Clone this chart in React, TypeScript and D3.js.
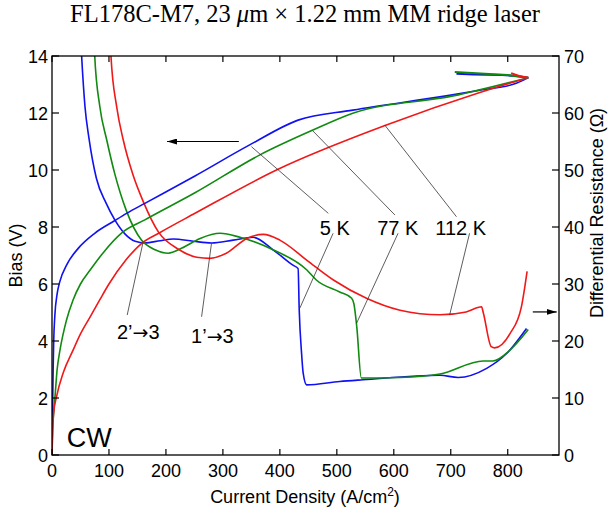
import * as d3 from "d3";

// axis ticks
const xTicks = [0, 100, 200, 300, 400, 500, 600, 700, 800];
const vTicks = [0, 2, 4, 6, 8, 10, 12, 14];
const rTicks = [0, 10, 20, 30, 40, 50, 60, 70];

type Pt = [number, number];

// bias (V) vs current density (A/cm2), forward sweep then the short return
const ivBlue: Pt[] = [[0, 0], [1, 1.5], [2, 3], [3, 4], [5, 4.9], [9, 5.65], [14, 6.1], [26, 6.68], [46, 7.25], [75, 7.78], [109, 8.21], [131, 8.48], [163, 8.83], [251, 9.79], [347, 10.88], [432, 11.75], [528, 12.1], [692, 12.6], [751, 12.8], [815, 13.04], [836, 13.24]];
const ivBlueBack: Pt[] = [[836, 13.24], [815, 13.3], [790, 13.33], [740, 13.35], [710, 13.38]];
const ivGreen: Pt[] = [[0, 0], [1, 0.8], [3, 1.5], [5.3, 2.05], [9, 3.0], [14, 3.68], [25, 4.7], [37, 5.44], [50, 6.0], [67, 6.49], [90, 7.1], [123, 7.8], [163, 8.25], [251, 9.2], [365, 10.53], [458, 11.4], [528, 11.99], [704, 12.6], [836, 13.24]];
const ivGreenBack: Pt[] = [[836, 13.24], [800, 13.33], [760, 13.38], [707, 13.44]];
const ivRed: Pt[] = [[0, 0], [1, 0.88], [3, 1.5], [8, 2.05], [20, 2.9], [37, 3.68], [50, 4.25], [67, 4.85], [84, 5.45], [100, 6.0], [130, 6.85], [157, 7.42], [189, 7.8], [251, 8.48], [394, 10.0], [587, 11.58], [751, 12.72], [836, 13.24]];
const ivRedBack: Pt[] = [[836, 13.24], [820, 13.3], [806, 13.4]];

// differential resistance (ohm) vs current density
const drBlue: Pt[] = [[48, 78], [52, 70], [58, 61], [65, 55.5], [78, 48.5], [95, 44.2], [110, 41.3], [128, 38.8], [146, 37.5], [163, 37.2], [190, 37.6], [213, 37.9], [248, 37.5], [280, 37.2], [318, 37.7], [353, 38.2], [388, 36.0], [423, 33.3], [432, 32.7], [434, 25.4], [438, 18], [441, 14.3], [447, 12.3], [505, 12.9], [546, 13.2], [681, 14.0], [713, 13.6], [763, 15.2], [798, 17.8], [833, 22.2]];
const drGreen: Pt[] = [[72, 78], [75, 70], [84, 61.1], [96, 55.3], [110, 49.4], [130, 43], [157, 37.7], [181, 36.0], [204, 35.4], [228, 36.3], [260, 38.0], [295, 38.9], [330, 38.2], [388, 36.0], [447, 32.5], [464, 30.7], [505, 28.6], [526, 27.5], [530, 26.5], [535, 22.5], [543, 13.5], [611, 13.6], [681, 14.2], [757, 16.5], [774, 16.5], [804, 18.4], [836, 22.0]];
const drRed: Pt[] = [[100, 78], [103.5, 70], [113.5, 61.1], [125, 55.3], [142, 49.2], [160, 44.5], [187, 39.1], [222, 36.1], [254, 34.7], [277, 34.5], [306, 35.4], [342, 38.0], [371, 38.7], [400, 37.7], [447, 34.2], [494, 30.7], [552, 27.5], [611, 25.4], [681, 24.6], [727, 25.1], [754, 26.0], [757, 25], [771, 19.0], [777, 18.8], [804, 21.3], [824, 26.0], [830, 29.5], [834, 32.2]];

const colors = ["#1010f0", "#108a10", "#f01818"];

// annotation leaders in data units (J, V)
const leaders: [Pt, Pt][] = [
  [[350, 10.82], [485, 8.48]],
  [[493.5, 7.78], [435, 5.15]],
  [[458, 11.37], [602, 8.42]],
  [[607.5, 7.78], [534.6, 4.62]],
  [[584, 11.58], [710, 8.36]],
  [[733, 7.78], [698, 4.91]],
  [[132, 4.91], [160, 7.48]],
  [[262.6, 4.85], [280, 7.43]],
];
const tempLabels: { t: string; at: Pt }[] = [
  { t: "5 K", at: [496.5, 7.72] },
  { t: "77 K", at: [607, 7.72] },
  { t: "112 K", at: [717.5, 7.72] },
];
const transLabels: { from: string; to: string; at: Pt }[] = [
  { from: "2’", to: "3", at: [151.4, 4.06] },
  { from: "1’", to: "3", at: [281.6, 3.94] },
];

const W = 610, H = 511;
const m = { left: 52, right: 559, top: 56, bottom: 455 };
const sans = "'Liberation Sans', Arial, 'DejaVu Sans', sans-serif";

export default function App() {
  const x = d3.scaleLinear().domain([0, 890]).range([m.left, m.right]);
  const yV = d3.scaleLinear().domain([0, 14]).range([m.bottom, m.top]);
  const yR = d3.scaleLinear().domain([0, 70]).range([m.bottom, m.top]);

  const lineV = d3.line<Pt>().x(d => x(d[0])).y(d => yV(d[1])).curve(d3.curveMonotoneX);
  const backV = d3.line<Pt>().x(d => x(d[0])).y(d => yV(d[1]));
  const lineR = d3.line<Pt>().x(d => x(d[0])).y(d => yR(d[1])).curve(d3.curveMonotoneX);

  const iv = [ivBlue, ivGreen, ivRed];
  const ivBack = [ivBlueBack, ivGreenBack, ivRedBack];
  const dr = [drBlue, drGreen, drRed];

  return (
    <svg width={W} height={H} style={{ position: "absolute", left: 0, top: 0, background: "#fff" }}>
      <defs>
        <clipPath id="plot">
          <rect x={m.left} y={m.top} width={m.right - m.left} height={m.bottom - m.top} />
        </clipPath>
        <marker id="head" viewBox="0 0 10 6" refX="10" refY="3" markerWidth="10" markerHeight="6" markerUnits="userSpaceOnUse" orient="auto">
          <path d="M0,0 L10,3 L0,6 Z" fill="#000" />
        </marker>
      </defs>

      <text x={305} y={22} textAnchor="middle" fontFamily="'Liberation Serif', 'Times New Roman', serif" fontSize={24.5}>
        FL178C-M7, 23 <tspan fontStyle="italic">μ</tspan>m × 1.22 mm MM ridge laser
      </text>

      <g clipPath="url(#plot)" fill="none" strokeWidth={1.6}>
        {dr.map((d, i) => <path key={"r" + i} d={lineR(d) ?? ""} stroke={colors[i]} />)}
        {iv.map((d, i) => <path key={"v" + i} d={lineV(d) ?? ""} stroke={colors[i]} />)}
        {ivBack.map((d, i) => <path key={"b" + i} d={backV(d) ?? ""} stroke={colors[i]} strokeWidth={2} />)}
      </g>

      <g stroke="#333" strokeWidth={0.8}>
        {leaders.map((l, i) => (
          <line key={i} x1={x(l[0][0])} y1={yV(l[0][1])} x2={x(l[1][0])} y2={yV(l[1][1])} />
        ))}
      </g>
      <g fontFamily={sans} fontSize={20} textAnchor="middle">
        {tempLabels.map((l, i) => <text key={i} x={x(l.at[0])} y={yV(l.at[1])}>{l.t}</text>)}
        {transLabels.map((l, i) => (
          <text key={"t" + i} x={x(l.at[0])} y={yV(l.at[1])}>
            {l.from}<tspan fontFamily="'DejaVu Sans', sans-serif" fontSize={19}>→</tspan>{l.to}
          </text>
        ))}
      </g>
      <text x={x(25.8)} y={yV(0.29)} fontFamily={sans} fontSize={27}>CW</text>

      <line x1={x(328)} y1={yV(11)} x2={x(202)} y2={yV(11)} stroke="#000" strokeWidth={1.2} markerEnd="url(#head)" />
      <line x1={x(844)} y1={yR(25.1)} x2={x(886)} y2={yR(25.1)} stroke="#000" strokeWidth={1.2} markerEnd="url(#head)" />

      <rect x={m.left} y={m.top} width={m.right - m.left} height={m.bottom - m.top} fill="none" stroke="#000" strokeWidth={1.3} />
      <g stroke="#000" strokeWidth={1.2}>
        {xTicks.map(t => (
          <g key={t}>
            <line x1={x(t)} x2={x(t)} y1={m.bottom} y2={m.bottom - 6} />
            <line x1={x(t)} x2={x(t)} y1={m.top} y2={m.top + 6} />
          </g>
        ))}
        {vTicks.map(t => <line key={t} x1={m.left} x2={m.left + 7} y1={yV(t)} y2={yV(t)} />)}
        {rTicks.map(t => <line key={t} x1={m.right} x2={m.right - 7} y1={yR(t)} y2={yR(t)} />)}
      </g>
      <g fontFamily={sans} fontSize={18}>
        {xTicks.map(t => <text key={t} x={x(t)} y={m.bottom + 22} textAnchor="middle">{t}</text>)}
        {vTicks.map(t => <text key={t} x={m.left - 4} y={yV(t) + 6.5} textAnchor="end">{t}</text>)}
        {rTicks.map(t => <text key={t} x={m.right + 5} y={yR(t) + 6.5}>{t}</text>)}
      </g>

      <text x={305} y={503} textAnchor="middle" fontFamily={sans} fontSize={18}>
        Current Density (A/cm<tspan dy={-7} fontSize={12}>2</tspan><tspan dy={7}>)</tspan>
      </text>
      <text transform={`translate(22,${(m.top + m.bottom) / 2}) rotate(-90)`} textAnchor="middle" fontFamily={sans} fontSize={18}>Bias (V)</text>
      <text transform={`translate(603,213) rotate(-90)`} textAnchor="middle" fontFamily={sans} fontSize={18}>Differential Resistance (Ω)</text>
    </svg>
  );
}
